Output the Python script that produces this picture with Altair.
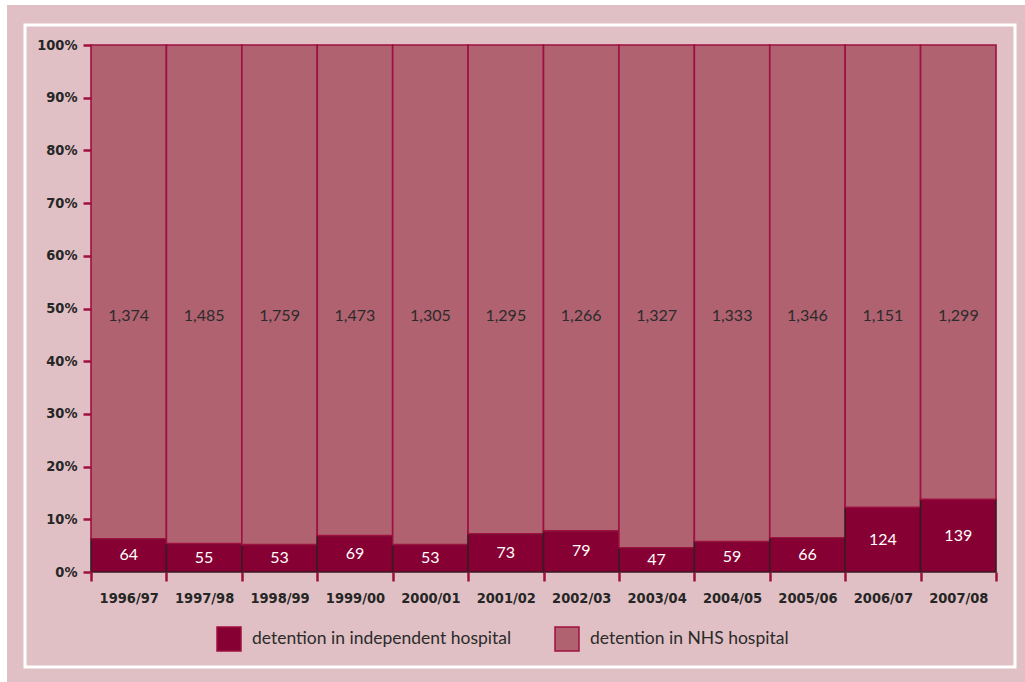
import altair as alt
import pandas as pd

years = ["1996/97", "1997/98", "1998/99", "1999/00", "2000/01", "2001/02",
         "2002/03", "2003/04", "2004/05", "2005/06", "2006/07", "2007/08"]
independent = [64, 55, 53, 69, 53, 73, 79, 47, 59, 66, 124, 139]
nhs = [1374, 1485, 1759, 1473, 1305, 1295, 1266, 1327, 1333, 1346, 1151, 1299]
# share (%) of the bar drawn for independent hospitals
indep_share = [6.3, 5.4, 5.2, 6.9, 5.2, 7.25, 7.8, 4.6, 5.8, 6.5, 12.3, 13.8]
nhs_label_level = 48.5

S_IND = "detention in independent hospital"
S_NHS = "detention in NHS hospital"

rows = []
for yr, ni, nn, p in zip(years, independent, nhs, indep_share):
    rows.append({"year": yr, "series": S_IND, "start": 0, "end": p,
                 "label": f"{ni:,}", "ly": p / 2})
    rows.append({"year": yr, "series": S_NHS, "start": p, "end": 100,
                 "label": f"{nn:,}", "ly": nhs_label_level})
df = pd.DataFrame(rows)

BODY_FONT = "Lato"
AXIS_FONT = "'Liberation Sans Narrow', 'DejaVu Sans Condensed', Roboto, sans-serif"
PINK_BG = "#e0c0c4"
NHS_COL = "#b06270"
IND_COL = "#870033"
CRIMSON = "#9e1040"
DARK = "#3a1a22"

W, H = 905, 527
PAD_L, PAD_T = 91, 45

x_enc = alt.X("year:N", sort=years,
              scale=alt.Scale(paddingInner=0, paddingOuter=0),
              axis=alt.Axis(title=None, labelAngle=0, tickBand="extent",
                            domain=False, ticks=True, tickColor=CRIMSON,
                            tickSize=9, tickWidth=2.5, labelPadding=10,
                            labelFont=AXIS_FONT, labelFontSize=14.5,
                            labelFontWeight="bold", labelColor="#262626",
                            zindex=1))
y_enc = alt.Y("start:Q", scale=alt.Scale(domain=[0, 100], nice=False),
              axis=alt.Axis(title=None, values=list(range(0, 101, 10)),
                            labelExpr="datum.value + '%'", domain=False,
                            grid=False, tickColor=CRIMSON, tickSize=8,
                            tickWidth=2.5, labelPadding=6,
                            labelFont=AXIS_FONT, labelFontSize=14.5,
                            labelFontWeight="bold", labelColor="#262626",
                            zindex=1))

base = alt.Chart(df)

frame_data = alt.Data(values=[{"k": 1}])
bg = alt.Chart(frame_data).mark_rect(fill=PINK_BG).encode(
    x=alt.value(7 - PAD_L), x2=alt.value(1025 - PAD_L),
    y=alt.value(5 - PAD_T), y2=alt.value(682 - PAD_T))
frame = alt.Chart(frame_data).mark_rect(filled=False, stroke="white", strokeWidth=3).encode(
    x=alt.value(25 - PAD_L), x2=alt.value(1015 - PAD_L),
    y=alt.value(25 - PAD_T), y2=alt.value(667 - PAD_T))

bars = base.mark_bar(strokeWidth=1.6).encode(
    x=x_enc,
    y=y_enc,
    y2="end:Q",
    color=alt.Color("series:N",
                    scale=alt.Scale(domain=[S_IND, S_NHS], range=[IND_COL, NHS_COL]),
                    legend=alt.Legend(title=None, orient="none", direction="horizontal",
                                      legendX=216 - PAD_L, legendY=626 - PAD_T,
                                      symbolType="square", symbolSize=576,
                                      symbolStrokeColor=CRIMSON, symbolStrokeWidth=1.5,
                                      labelFont=BODY_FONT, labelFontSize=17.5,
                                      labelColor="#2b2b2b", labelOffset=10,
                                      columnPadding=40, labelLimit=400, zindex=1)),
    stroke=alt.Stroke("series:N",
                      scale=alt.Scale(domain=[S_IND, S_NHS], range=[DARK, CRIMSON]),
                      legend=None),
)

texts = base.mark_text(font=BODY_FONT, fontSize=16, baseline="middle").encode(
    x=alt.X("year:N", sort=years),
    y=alt.Y("ly:Q"),
    text="label:N",
    color=alt.Color("series:N",
                    scale=alt.Scale(domain=[S_IND, S_NHS], range=["#ffffff", "#2b2b2b"]),
                    legend=None),
)

chart = alt.layer(bg, frame, bars, texts).resolve_scale(color="independent").properties(
    width=W, height=H,
    autosize=alt.AutoSizeParams(type="none"),
    padding={"left": PAD_L, "top": PAD_T, "right": 1025 - PAD_L - W, "bottom": 682 - PAD_T - H},
    background="white",
).configure_view(stroke=None)

chart.save("out.html", embed_options={"renderer": "svg", "actions": False})
